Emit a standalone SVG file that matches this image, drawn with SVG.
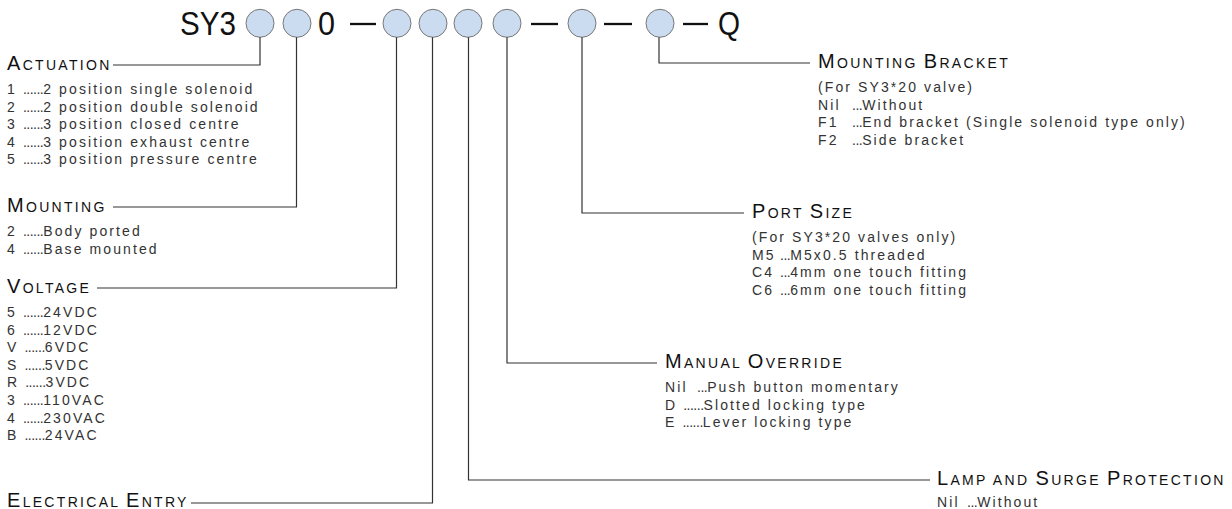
<svg xmlns="http://www.w3.org/2000/svg" width="1232" height="509" viewBox="0 0 1232 509">
<style>
.h{font-family:"Liberation Sans",Arial,sans-serif;font-size:14px;letter-spacing:2.3px;fill:#111}
.b{font-size:20px}
.t{font-family:"Liberation Sans",Arial,sans-serif;font-size:14px;letter-spacing:2.1px;fill:#333}
.d{letter-spacing:-0.5px}
.ti{font-family:"Liberation Sans",Arial,sans-serif;font-size:33px;fill:#111}
.c{fill:#ccdcf0;stroke:#777;stroke-width:1}
.dash{stroke:#111;stroke-width:2.3}
#connectors path{fill:none;stroke:#333;stroke-width:1.2}
</style>
<rect width="1232" height="509" fill="#fff"/>
<g id="code">
<text class="ti" x="180" y="35" textLength="56" lengthAdjust="spacingAndGlyphs">SY3</text>
<text class="ti" x="318" y="35" textLength="17" lengthAdjust="spacingAndGlyphs">0</text>
<text class="ti" x="718" y="35" textLength="22" lengthAdjust="spacingAndGlyphs">Q</text>
<line class="dash" x1="350" y1="24" x2="376" y2="24"/>
<line class="dash" x1="531" y1="24" x2="558" y2="24"/>
<line class="dash" x1="604" y1="24" x2="632" y2="24"/>
<line class="dash" x1="683" y1="24" x2="708" y2="24"/>
<circle id="c-actuation" class="c" cx="260" cy="23.3" r="14"/>
<circle id="c-mounting" class="c" cx="297" cy="23.3" r="14"/>
<circle id="c-voltage" class="c" cx="397" cy="23.3" r="14"/>
<circle id="c-entry" class="c" cx="433" cy="23.3" r="14"/>
<circle id="c-lamp" class="c" cx="468" cy="23.3" r="14"/>
<circle id="c-override" class="c" cx="507" cy="23.3" r="14"/>
<circle id="c-port" class="c" cx="582" cy="23.3" r="14"/>
<circle id="c-bracket" class="c" cx="660" cy="23.3" r="14"/>
</g>
<g id="connectors">
<path d="M260,37.3V65H113"/>
<path d="M296.5,37.3V207H113"/>
<path d="M396.5,37.3V288H97"/>
<path d="M432.5,37.3V503H191"/>
<path d="M468.5,37.3V480H930"/>
<path d="M507,37.3V363H657"/>
<path d="M582,37.3V213H744"/>
<path d="M659,37.3V63H810"/>
</g>
<g id="actuation">
<text class="h" x="7" y="70"><tspan class="b">A</tspan>CTUATION</text>
<text class="t" x="7" y="94">1 <tspan class="d">......</tspan>2 position single solenoid</text>
<text class="t" x="7" y="111.6">2 <tspan class="d">......</tspan>2 position double solenoid</text>
<text class="t" x="7" y="129.2">3 <tspan class="d">......</tspan>3 position closed centre</text>
<text class="t" x="7" y="146.8">4 <tspan class="d">......</tspan>3 position exhaust centre</text>
<text class="t" x="7" y="164.4">5 <tspan class="d">......</tspan>3 position pressure centre</text>
</g>
<g id="mounting">
<text class="h" x="7" y="212"><tspan class="b">M</tspan>OUNTING</text>
<text class="t" x="7" y="236">2 <tspan class="d">......</tspan>Body ported</text>
<text class="t" x="7" y="253.6">4 <tspan class="d">......</tspan>Base mounted</text>
</g>
<g id="voltage">
<text class="h" x="7" y="293"><tspan class="b">V</tspan>OLTAGE</text>
<text class="t" x="7" y="317">5 <tspan class="d">......</tspan>24VDC</text>
<text class="t" x="7" y="334.6">6 <tspan class="d">......</tspan>12VDC</text>
<text class="t" x="7" y="352.2">V <tspan class="d">......</tspan>6VDC</text>
<text class="t" x="7" y="369.8">S <tspan class="d">......</tspan>5VDC</text>
<text class="t" x="7" y="387.4">R <tspan class="d">......</tspan>3VDC</text>
<text class="t" x="7" y="405">3 <tspan class="d">......</tspan>110VAC</text>
<text class="t" x="7" y="422.6">4 <tspan class="d">......</tspan>230VAC</text>
<text class="t" x="7" y="440.2">B <tspan class="d">......</tspan>24VAC</text>
</g>
<g id="electrical-entry">
<text class="h" x="7" y="507"><tspan class="b">E</tspan>LECTRICAL <tspan class="b">E</tspan>NTRY</text>
</g>
<g id="mounting-bracket">
<text class="h" x="818" y="68"><tspan class="b">M</tspan>OUNTING <tspan class="b">B</tspan>RACKET</text>
<text class="t" x="818" y="92">(For SY3*20 valve)</text>
<text class="t" x="818" y="109.6">Nil<tspan x="852" class="d">...</tspan>Without</text>
<text class="t" x="818" y="127.2">F1<tspan x="852" class="d">...</tspan>End bracket (Single solenoid type only)</text>
<text class="t" x="818" y="144.8">F2<tspan x="852" class="d">...</tspan>Side bracket</text>
</g>
<g id="port-size">
<text class="h" x="752" y="218"><tspan class="b">P</tspan>ORT <tspan class="b">S</tspan>IZE</text>
<text class="t" x="752" y="242">(For SY3*20 valves only)</text>
<text class="t" x="752" y="259.6">M5<tspan x="780" class="d">...</tspan>M5x0.5 threaded</text>
<text class="t" x="752" y="277.2">C4<tspan x="780" class="d">...</tspan>4mm one touch fitting</text>
<text class="t" x="752" y="294.8">C6<tspan x="780" class="d">...</tspan>6mm one touch fitting</text>
</g>
<g id="manual-override">
<text class="h" x="665" y="368"><tspan class="b">M</tspan>ANUAL <tspan class="b">O</tspan>VERRIDE</text>
<text class="t" x="665" y="392">Nil<tspan x="697" class="d">...</tspan>Push button momentary</text>
<text class="t" x="665" y="409.6">D <tspan class="d">......</tspan>Slotted locking type</text>
<text class="t" x="665" y="427.2">E <tspan class="d">......</tspan>Lever locking type</text>
</g>
<g id="lamp-surge">
<text class="h" x="937" y="485"><tspan class="b">L</tspan>AMP AND <tspan class="b">S</tspan>URGE <tspan class="b">P</tspan>ROTECTION</text>
<text class="t" x="937" y="507">Nil<tspan x="967" class="d">...</tspan>Without</text>
</g>
</svg>
